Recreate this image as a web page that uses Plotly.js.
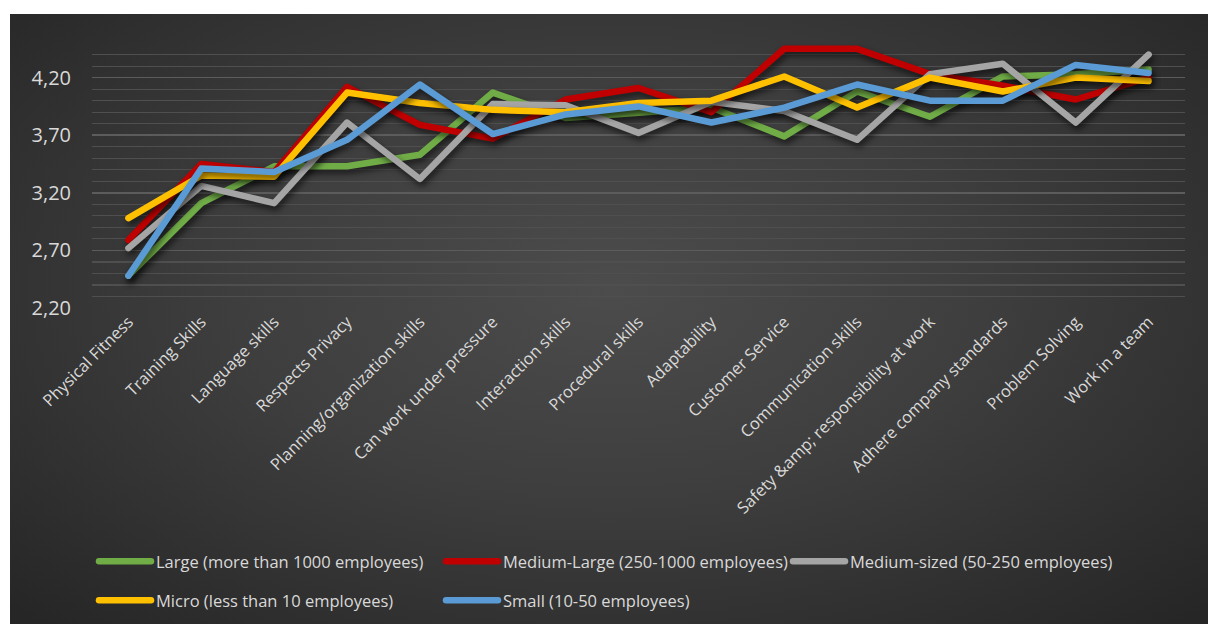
<!DOCTYPE html>
<html>
<head>
<meta charset="utf-8">
<script src="https://cdn.plot.ly/plotly-3.0.1.min.js"></script>
<style>
  html, body { margin: 0; padding: 0; background: #ffffff; width: 1208px; height: 624px; overflow: hidden; }
  #frame {
    position: absolute; left: 10px; top: 14px; width: 1198px; height: 610px;
    background: radial-gradient(ellipse 70% 75% at 50% 45%, #4c4c4c 0%, #3e3e3e 45%, #262626 100%);
  }
  #chart { width: 1198px; height: 610px; }
  .scatterlayer .trace { filter: drop-shadow(2px 4px 3px rgba(0,0,0,0.6)); }
  .js-line { stroke-linecap: round; stroke-linejoin: round; }
  .legendlines path { stroke-linecap: round; }
</style>
</head>
<body>
<div id="frame"><div id="chart"></div></div>
<script>
const categories = ["Physical Fitness", "Training Skills", "Language skills", "Respects Privacy",
  "Planning/organization skills", "Can work under pressure", "Interaction skills", "Procedural skills",
  "Adaptability", "Customer Service", "Communication skills", "Safety &amp;amp; responsibility at work",
  "Adhere company standards", "Problem Solving", "Work in a team"];

const seriesNames = ["Large (more than 1000 employees)", "Medium-Large (250-1000 employees)",
  "Medium-sized (50-250 employees)", "Micro (less than 10 employees)", "Small (10-50 employees)"];

const large       = [2.48, 3.11, 3.43, 3.43, 3.53, 4.07, 3.85, 3.90, 3.94, 3.69, 4.08, 3.86, 4.21, 4.23, 4.27];
const mediumLarge = [2.79, 3.45, 3.38, 4.12, 3.79, 3.67, 4.01, 4.11, 3.90, 4.45, 4.45, 4.23, 4.13, 4.01, 4.20];
const mediumSized = [2.72, 3.26, 3.11, 3.81, 3.32, 3.97, 3.96, 3.72, 3.99, 3.91, 3.66, 4.23, 4.32, 3.81, 4.40];
const micro       = [2.98, 3.35, 3.34, 4.07, 3.98, 3.92, 3.90, 3.98, 4.00, 4.21, 3.94, 4.20, 4.08, 4.20, 4.17];
const small       = [2.48, 3.41, 3.38, 3.66, 4.14, 3.71, 3.88, 3.95, 3.81, 3.94, 4.14, 4.00, 4.00, 4.31, 4.24];

const colors = ["#70ad47", "#c00000", "#a5a5a5", "#ffc000", "#5b9bd5"];
const values = [large, mediumLarge, mediumSized, micro, small];
const legendOf = ["legend", "legend", "legend", "legend2", "legend2"];

const traces = values.map((v, i) => ({
  type: "scatter", mode: "lines", name: seriesNames[i],
  x: categories, y: v,
  line: { color: colors[i], width: 6.5 },
  legend: legendOf[i], hoverinfo: "skip"
}));

const legendFont = { family: "Open Sans, DejaVu Sans, sans-serif", size: 16.5, color: "#d9d9d9" };

const layout = {
  width: 1198, height: 610,
  paper_bgcolor: "rgba(0,0,0,0)", plot_bgcolor: "rgba(0,0,0,0)",
  margin: { l: 82, r: 23, t: 29, b: 316 },
  separators: ",.",
  showlegend: true,
  font: { family: "Open Sans, DejaVu Sans, sans-serif", color: "#d9d9d9" },
  xaxis: {
    type: "category", range: [-0.5, 14.5],
    tickangle: -45, tickfont: { size: 16.5, color: "#d9d9d9" },
    showgrid: false, zeroline: false, showline: false, ticks: "", ticklen: 0
  },
  yaxis: {
    range: [2.2, 4.5005], tick0: 2.2, dtick: 0.5, tickformat: ".2f",
    tickfont: { size: 20, color: "#d9d9d9" },
    showgrid: true, gridcolor: "#5c5c5c", gridwidth: 1.5,
    minor: { dtick: 0.1, tick0: 2.2, showgrid: true, gridcolor: "#4f4f4f", gridwidth: 1.2 },
    zeroline: false, showline: false, ticks: "", ticklabelstandoff: 20
  },
  legend: {
    orientation: "h", xref: "container", yref: "container",
    x: 84 / 1198, y: 1 - 530 / 610, xanchor: "left", yanchor: "top",
    entrywidth: 280, entrywidthmode: "pixels", itemwidth: 52,
    font: legendFont, bgcolor: "rgba(0,0,0,0)", traceorder: "normal"
  },
  legend2: {
    orientation: "h", xref: "container", yref: "container",
    x: 84 / 1198, y: 1 - 569 / 610, xanchor: "left", yanchor: "top",
    entrywidth: 280, entrywidthmode: "pixels", itemwidth: 52,
    font: legendFont, bgcolor: "rgba(0,0,0,0)", traceorder: "normal"
  }
};

Plotly.newPlot("chart", traces, layout, { displayModeBar: false, staticPlot: true });
</script>
</body>
</html>
